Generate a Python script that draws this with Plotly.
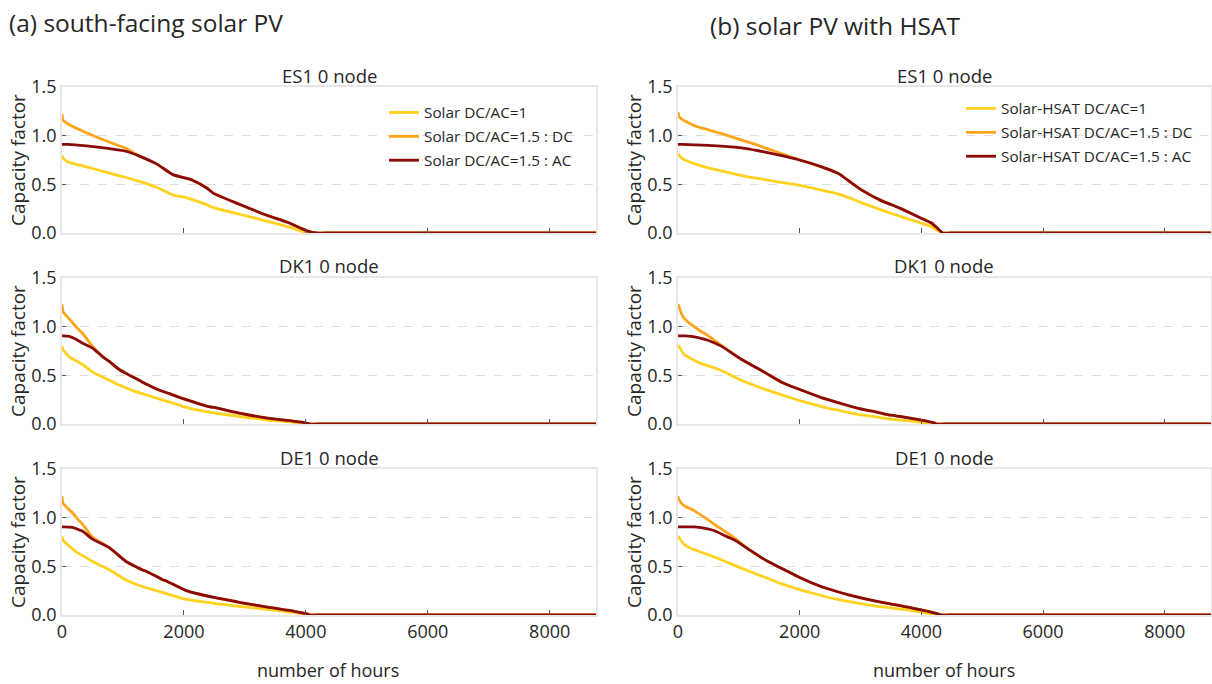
import plotly.graph_objects as go
from plotly.subplots import make_subplots

# ---- duration curves: capacity factor vs. number of hours (sorted) ----
# ES1, south-facing PV
es1_pv_hours = [0, 15, 100, 400, 750, 1050, 1270, 1550, 1820, 2050, 2150, 2380, 2480, 2930, 3370, 3700, 4030, 4170, 4320, 8760]
es1_pv_dc1 = [0.80, 0.77, 0.73, 0.68, 0.62, 0.57, 0.53, 0.47, 0.39, 0.36, 0.34, 0.29, 0.26, 0.19, 0.12, 0.065, 0.0, 0.0, 0.0, 0.0]
es1_pv_dc15 = [1.22, 1.16, 1.12, 1.03, 0.94, 0.87, 0.79, 0.71, 0.60, 0.56, 0.54, 0.46, 0.41, 0.29, 0.18, 0.11, 0.02, 0.0, 0.0, 0.0]
es1_pv_ac = [0.91, 0.91, 0.91, 0.895, 0.87, 0.84, 0.79, 0.71, 0.60, 0.56, 0.54, 0.46, 0.41, 0.29, 0.18, 0.11, 0.02, 0.0, 0.0, 0.0]

# ES1, HSAT
es1_hsat_hours = [0, 15, 60, 280, 500, 770, 1045, 1320, 1590, 2000, 2360, 2640, 2860, 3020, 3350, 3510, 3680, 4005, 4170, 4280, 4350, 4480, 8760]
es1_hsat_dc1 = [0.82, 0.80, 0.77, 0.71, 0.67, 0.63, 0.59, 0.56, 0.53, 0.49, 0.44, 0.40, 0.35, 0.31, 0.235, 0.20, 0.165, 0.10, 0.065, 0.02, 0.0, 0.0, 0.0]
es1_hsat_dc15 = [1.24, 1.20, 1.17, 1.10, 1.06, 1.01, 0.955, 0.90, 0.84, 0.75, 0.68, 0.61, 0.51, 0.44, 0.33, 0.29, 0.245, 0.15, 0.10, 0.04, 0.0, 0.0, 0.0]
es1_hsat_ac = [0.91, 0.91, 0.91, 0.905, 0.90, 0.89, 0.875, 0.845, 0.81, 0.75, 0.68, 0.61, 0.51, 0.44, 0.33, 0.29, 0.245, 0.15, 0.10, 0.04, 0.0, 0.0, 0.0]

# DK1, south-facing PV
dk1_pv_hours = [0, 20, 120, 230, 340, 500, 670, 780, 940, 1050, 1220, 1380, 1550, 1770, 2040, 2430, 2490, 2930, 3370, 3810, 3970, 4060, 4200, 8760]
dk1_pv_dc1 = [0.80, 0.76, 0.69, 0.65, 0.61, 0.535, 0.48, 0.45, 0.40, 0.37, 0.33, 0.30, 0.265, 0.225, 0.17, 0.12, 0.115, 0.076, 0.04, 0.018, 0.0, 0.0, 0.0, 0.0]
dk1_pv_dc15 = [1.23, 1.15, 1.08, 1.00, 0.93, 0.80, 0.69, 0.64, 0.56, 0.52, 0.465, 0.41, 0.36, 0.31, 0.25, 0.175, 0.17, 0.11, 0.06, 0.028, 0.015, 0.0, 0.0, 0.0]
dk1_pv_ac = [0.905, 0.905, 0.90, 0.87, 0.83, 0.78, 0.69, 0.64, 0.56, 0.52, 0.465, 0.41, 0.36, 0.31, 0.25, 0.175, 0.17, 0.11, 0.06, 0.028, 0.015, 0.0, 0.0, 0.0]

# DK1, HSAT
dk1_hsat_hours = [0, 12, 60, 110, 220, 380, 490, 710, 1040, 1370, 1480, 1700, 2000, 2360, 2410, 2790, 2960, 3230, 3500, 3670, 4000, 4220, 4250, 4380, 8760]
dk1_hsat_dc1 = [0.81, 0.80, 0.75, 0.71, 0.67, 0.62, 0.60, 0.55, 0.45, 0.37, 0.345, 0.30, 0.24, 0.18, 0.17, 0.12, 0.10, 0.075, 0.05, 0.04, 0.018, 0.0, 0.0, 0.0, 0.0]
dk1_hsat_dc15 = [1.23, 1.21, 1.13, 1.08, 1.02, 0.95, 0.91, 0.81, 0.665, 0.55, 0.51, 0.43, 0.355, 0.27, 0.26, 0.19, 0.16, 0.128, 0.09, 0.076, 0.04, 0.01, 0.0, 0.0, 0.0]
dk1_hsat_ac = [0.905, 0.905, 0.905, 0.905, 0.90, 0.88, 0.86, 0.80, 0.665, 0.55, 0.51, 0.43, 0.355, 0.27, 0.26, 0.19, 0.16, 0.128, 0.09, 0.076, 0.04, 0.01, 0.0, 0.0, 0.0]

# DE1, south-facing PV
de1_pv_hours = [0, 15, 170, 280, 340, 500, 780, 1050, 1330, 1380, 1660, 1710, 2040, 2490, 2930, 3370, 3810, 4030, 4060, 4200, 8760]
de1_pv_dc1 = [0.81, 0.77, 0.68, 0.63, 0.61, 0.55, 0.465, 0.36, 0.29, 0.28, 0.23, 0.22, 0.16, 0.12, 0.087, 0.059, 0.024, 0.0, 0.0, 0.0, 0.0]
de1_pv_dc15 = [1.22, 1.15, 1.05, 0.97, 0.93, 0.80, 0.69, 0.55, 0.46, 0.45, 0.36, 0.35, 0.25, 0.18, 0.128, 0.08, 0.038, 0.01, 0.0, 0.0, 0.0]
de1_pv_ac = [0.905, 0.905, 0.90, 0.875, 0.86, 0.78, 0.69, 0.55, 0.46, 0.45, 0.36, 0.35, 0.25, 0.18, 0.128, 0.08, 0.038, 0.01, 0.0, 0.0, 0.0]

# DE1, HSAT
de1_hsat_hours = [0, 12, 55, 110, 270, 490, 600, 820, 930, 1150, 1370, 1480, 1700, 1750, 2000, 2360, 2410, 2790, 3230, 3670, 3780, 4000, 4110, 4270, 4330, 4460, 8760]
de1_hsat_dc1 = [0.81, 0.80, 0.76, 0.72, 0.67, 0.62, 0.595, 0.54, 0.51, 0.455, 0.40, 0.375, 0.32, 0.31, 0.26, 0.20, 0.19, 0.14, 0.093, 0.06, 0.052, 0.03, 0.018, 0.0, 0.0, 0.0, 0.0]
de1_hsat_dc15 = [1.22, 1.19, 1.15, 1.12, 1.07, 0.98, 0.93, 0.84, 0.79, 0.68, 0.59, 0.55, 0.48, 0.465, 0.385, 0.29, 0.28, 0.21, 0.145, 0.093, 0.08, 0.052, 0.038, 0.012, 0.0, 0.0, 0.0]
de1_hsat_ac = [0.905, 0.905, 0.905, 0.905, 0.905, 0.885, 0.865, 0.80, 0.77, 0.68, 0.59, 0.55, 0.48, 0.465, 0.385, 0.29, 0.28, 0.21, 0.145, 0.093, 0.08, 0.052, 0.038, 0.012, 0.0, 0.0, 0.0]

regions = ["ES1 0 node", "DK1 0 node", "DE1 0 node"]
column_titles = ["(a) south-facing solar PV", "(b) solar PV with HSAT"]
pv_names = ["Solar DC/AC=1", "Solar DC/AC=1.5 : DC", "Solar DC/AC=1.5 : AC"]
hsat_names = ["Solar-HSAT DC/AC=1", "Solar-HSAT DC/AC=1.5 : DC", "Solar-HSAT DC/AC=1.5 : AC"]
x_ticks = [0, 2000, 4000, 6000, 8000]
y_ticks = [0.0, 0.5, 1.0, 1.5]

series_colors = ["#FFD21F", "#FFA51A", "#8B0A0A"]

panels = {
    (1, 1): (es1_pv_hours, [es1_pv_dc1, es1_pv_dc15, es1_pv_ac]),
    (1, 2): (es1_hsat_hours, [es1_hsat_dc1, es1_hsat_dc15, es1_hsat_ac]),
    (2, 1): (dk1_pv_hours, [dk1_pv_dc1, dk1_pv_dc15, dk1_pv_ac]),
    (2, 2): (dk1_hsat_hours, [dk1_hsat_dc1, dk1_hsat_dc15, dk1_hsat_ac]),
    (3, 1): (de1_pv_hours, [de1_pv_dc1, de1_pv_dc15, de1_pv_ac]),
    (3, 2): (de1_hsat_hours, [de1_hsat_dc1, de1_hsat_dc15, de1_hsat_ac]),
}

W, H = 1212, 684
FONT = "Open Sans"
TEXT = "#262626"
FRAME = "rgba(212,212,212,0.55)"

fig = make_subplots(rows=3, cols=2)

for (r, c), (hours, values) in panels.items():
    names = pv_names if c == 1 else hsat_names
    legend_id = "legend" if c == 1 else "legend2"
    for k, vals in enumerate(values):
        fig.add_trace(
            go.Scatter(
                x=hours, y=vals, mode="lines", name=names[k],
                line=dict(color=series_colors[k], width=2.8, shape="spline", smoothing=0.5),
                showlegend=(r == 1), legend=legend_id,
                legendgroup=f"{c}-{k}",
            ),
            row=r, col=c,
        )

# pixel layout of the six panels
col_px = [(62, 596), (678, 1211)]
row_px = [(87, 233), (278, 424), (469, 615)]

def px_x(v):
    return v / W

def px_y(v):
    return 1 - v / H

for r in range(1, 4):
    for c in range(1, 3):
        idx = (r - 1) * 2 + c
        xa = "xaxis" if idx == 1 else f"xaxis{idx}"
        ya = "yaxis" if idx == 1 else f"yaxis{idx}"
        x0, x1 = col_px[c - 1]
        y0, y1 = row_px[r - 1]
        fig.layout[xa].update(
            domain=[px_x(x0), px_x(x1)], range=[0, 8760], automargin=False,
            tickvals=x_ticks, showticklabels=(r == 3),
            ticks="inside", ticklen=5, tickwidth=1.3, tickcolor="#555555",
            showgrid=False, zeroline=False,
            showline=True, mirror=True, linecolor=FRAME, linewidth=1.6,
            tickfont=dict(family=FONT, size=18, color=TEXT),
        )
        fig.layout[ya].update(
            domain=[px_y(y1), px_y(y0)], range=[0, 1.5], automargin=False,
            tickvals=y_ticks, tickformat=".1f",
            ticks="inside", ticklen=4, tickwidth=1.3, tickcolor="#555555",
            showgrid=True, gridcolor="#dedede", griddash="dash", gridwidth=1,
            zeroline=False,
            showline=True, mirror=True, linecolor=FRAME, linewidth=1.6,
            tickfont=dict(family=FONT, size=18, color=TEXT),
        )

annotations = []
# column headings
annotations.append(dict(text=column_titles[0], x=px_x(7), y=px_y(22), xanchor="left", yanchor="middle",
                        font=dict(family=FONT, size=24.5, color=TEXT)))
annotations.append(dict(text=column_titles[1], x=px_x(708), y=px_y(25), xanchor="left", yanchor="middle",
                        font=dict(family=FONT, size=24.5, color=TEXT)))
# panel titles, axis titles
for r in range(3):
    y0, y1 = row_px[r]
    for c in range(2):
        x0, x1 = col_px[c]
        annotations.append(dict(text=regions[r], x=px_x((x0 + x1) / 2), y=px_y(y0 - 12),
                                xanchor="center", yanchor="middle",
                                font=dict(family=FONT, size=18.5, color=TEXT)))
        annotations.append(dict(text="Capacity factor", x=px_x(x0 - 44), y=px_y((y0 + y1) / 2),
                                xanchor="center", yanchor="middle", textangle=-90,
                                font=dict(family=FONT, size=19, color=TEXT)))
for c in range(2):
    x0, x1 = col_px[c]
    annotations.append(dict(text="number of hours", x=px_x((x0 + x1) / 2 - 1), y=px_y(670),
                            xanchor="center", yanchor="middle",
                            font=dict(family=FONT, size=18, color=TEXT)))
for a in annotations:
    a.update(xref="paper", yref="paper", showarrow=False)

legend_style = dict(
    bgcolor="rgba(255,255,255,0)", borderwidth=0,
    font=dict(family=FONT, size=15.3, color=TEXT),
    traceorder="grouped", tracegroupgap=1,
    xanchor="left", yanchor="top",
)

fig.update_layout(
    width=W, height=H,
    margin=dict(l=0, r=0, t=0, b=0, autoexpand=False),
    paper_bgcolor="white", plot_bgcolor="white",
    annotations=annotations,
    legend=dict(x=px_x(384), y=px_y(96), **legend_style),
    legend2=dict(x=px_x(961), y=px_y(92), **legend_style),
)

fig.write_html("out.html")
